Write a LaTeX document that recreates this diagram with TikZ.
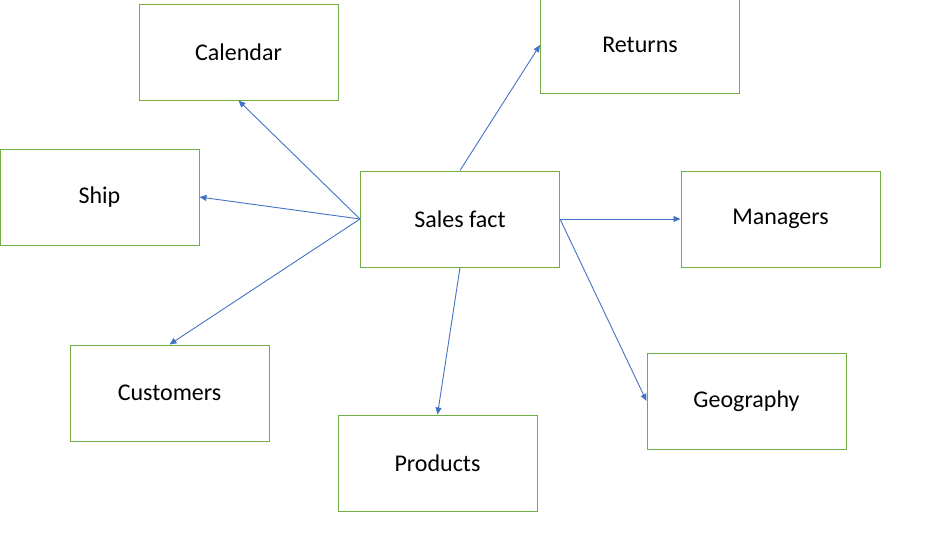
\documentclass[tikz,border=0pt]{standalone}
\usepackage{fontspec}
\setmainfont{Carlito}
\usetikzlibrary{arrows.meta}
\definecolor{boxgreen}{HTML}{70AD47}
\definecolor{arrowblue}{HTML}{4472C4}
\begin{document}
\begin{tikzpicture}[x=1pt,y=-1pt,
  tbl/.style={draw=boxgreen, line width=1pt, fill=white, minimum width=199pt, minimum height=96pt, inner sep=0pt, font=\fontsize{24}{28}\selectfont},
  link/.style={draw=arrowblue, line width=0.9pt, -{Triangle[length=7pt,width=6pt]}}]
\useasboundingbox (0,0) rectangle (938,550);
\fill[white] (0,0) rectangle (938,550);
\node[tbl] (cal) at (238.5,52) {Calendar};
\node[tbl] (ret) at (640,45) {Returns};
\node[tbl] (ship) at (99.5,197) {Ship};
\node[tbl] (sales) at (460,219) {Sales fact};
\node[tbl] (man) at (780.5,219) {Managers};
\node[tbl] (cust) at (169.5,393) {Customers};
\node[tbl] (geo) at (746.5,401) {Geography};
\node[tbl] (prod) at (437.5,463) {Products};
\draw[link] (sales.west) -- (cal.south);
\draw[link] (sales.west) -- (ship.east);
\draw[link] (sales.west) -- (cust.north);
\draw[link] (sales.north) -- (ret.west);
\draw[link] (sales.east) -- (man.west);
\draw[link] (sales.east) -- (geo.west);
\draw[link] (sales.south) -- (prod.north);
\end{tikzpicture}
\end{document}
